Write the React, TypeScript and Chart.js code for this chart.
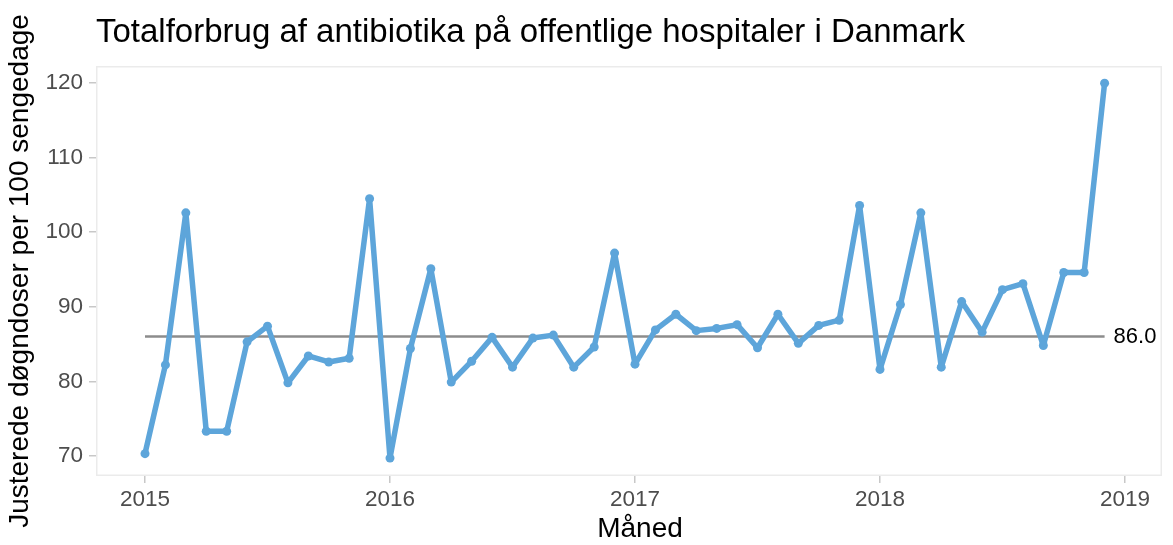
import { useEffect, useRef } from "react";
import { Chart, registerables } from "chart.js";

Chart.register(...registerables);

const months = [
  "2015-01", "2015-02", "2015-03", "2015-04", "2015-05", "2015-06",
  "2015-07", "2015-08", "2015-09", "2015-10", "2015-11", "2015-12",
  "2016-01", "2016-02", "2016-03", "2016-04", "2016-05", "2016-06",
  "2016-07", "2016-08", "2016-09", "2016-10", "2016-11", "2016-12",
  "2017-01", "2017-02", "2017-03", "2017-04", "2017-05", "2017-06",
  "2017-07", "2017-08", "2017-09", "2017-10", "2017-11", "2017-12",
  "2018-01", "2018-02", "2018-03", "2018-04", "2018-05", "2018-06",
  "2018-07", "2018-08", "2018-09", "2018-10", "2018-11", "2018-12",
];

const values = [
  70.3, 82.2, 102.6, 73.3, 73.3, 85.3, 87.4, 79.8, 83.4, 82.6, 83.1, 104.5,
  69.7, 84.4, 95.1, 79.9, 82.7, 85.9, 81.9, 85.8, 86.2, 81.9, 84.6, 97.2,
  82.3, 86.9, 89.0, 86.8, 87.1, 87.6, 84.5, 89.0, 85.1, 87.5, 88.2, 103.6,
  81.6, 90.3, 102.6, 81.9, 90.7, 86.6, 92.3, 93.1, 84.8, 94.6, 94.6, 120.0,
];

const yearTicks = [2015, 2016, 2017, 2018, 2019];
const yTicks = [70, 80, 90, 100, 110, 120];
const medianValue = 86.0;
const medianLabel = "86.0";

const titleText = "Totalforbrug af antibiotika på offentlige hospitaler i Danmark";
const xTitle = "Måned";
const yTitle = "Justerede døgndoser per 100 sengedage";

const FONT = "'Liberation Sans', Arial, Helvetica, sans-serif";

function monthToX(m: string): number {
  const [y, mo] = m.split("-").map(Number);
  return y + (mo - 1) / 12;
}

export default function App() {
  const ref = useRef<HTMLCanvasElement | null>(null);

  useEffect(() => {
    const canvas = ref.current;
    if (!canvas) return;

    const points = months.map((m, i) => ({ x: monthToX(m), y: values[i] }));
    const medianPoints = [
      { x: monthToX(months[0]), y: medianValue },
      { x: monthToX(months[months.length - 1]), y: medianValue },
    ];

    const panelPlugin = {
      id: "panelBorder",
      beforeDatasetsDraw(chart: any) {
        const { ctx, chartArea } = chart;
        ctx.save();
        ctx.strokeStyle = "#ebebeb";
        ctx.lineWidth = 1.5;
        ctx.strokeRect(
          chartArea.left + 0.75,
          chartArea.top + 0.75,
          chartArea.right - chartArea.left - 1.5,
          chartArea.bottom - chartArea.top - 1.5
        );
        ctx.restore();
      },
    };

    const textPlugin = {
      id: "extraText",
      afterDraw(chart: any) {
        const { ctx, scales, width, height } = chart;
        const x = scales.x.getPixelForValue(medianPoints[1].x) + 9;
        const y = scales.y.getPixelForValue(medianValue);
        ctx.save();
        ctx.fillStyle = "#000000";
        ctx.font = `22px ${FONT}`;
        ctx.textAlign = "left";
        ctx.textBaseline = "middle";
        ctx.fillText(medianLabel, x, y);
        // x-axis title, centred on the full figure width like the reference
        ctx.font = `28px ${FONT}`;
        ctx.textAlign = "center";
        ctx.textBaseline = "middle";
        ctx.fillText(xTitle, (width + 107) / 2, height - 16);
        ctx.restore();
      },
    };

    const chart = new Chart(canvas, {
      type: "line",
      data: {
        datasets: [
          {
            data: medianPoints,
            borderColor: "#8c8c8c",
            borderWidth: 2.5,
            pointRadius: 0,
            fill: false,
            order: 2,
          },
          {
            data: points,
            borderColor: "#5DA5DA",
            backgroundColor: "#5DA5DA",
            borderWidth: 5.5,
            borderJoinStyle: "round",
            borderCapStyle: "round",
            pointRadius: 4.5,
            pointBorderWidth: 0,
            pointBackgroundColor: "#5DA5DA",
            tension: 0,
            fill: false,
            order: 1,
          },
        ],
      },
      options: {
        responsive: false,
        animation: false,
        events: [],
        layout: { padding: { left: 0, right: 11, top: 0, bottom: 0 } },
        plugins: {
          legend: { display: false },
          tooltip: { enabled: false },
          title: {
            display: true,
            text: titleText,
            align: "start",
            fullSize: false,
            color: "#000000",
            font: { family: FONT, size: 33, weight: "normal" },
            padding: { top: 13, bottom: 13.4 },
          },
        },
        scales: {
          x: {
            type: "linear",
            min: 2014.8,
            max: 2019.151,
            afterBuildTicks(scale: any) {
              scale.ticks = yearTicks.map((v) => ({ value: v }));
            },
            afterFit(scale: any) {
              scale.height = 69;
            },
            ticks: {
              color: "#4d4d4d",
              font: { family: FONT, size: 22.5 },
              padding: 3,
              maxRotation: 0,
              autoSkip: false,
              callback: (v: any) => String(v),
            },
            grid: {
              drawOnChartArea: false,
              drawTicks: true,
              tickLength: 7,
              color: "#c8c8c8",
              lineWidth: 1.5,
            },
            border: { display: false },
            title: { display: false },
          },
          y: {
            type: "linear",
            min: 67.3,
            max: 122.3,
            afterBuildTicks(scale: any) {
              scale.ticks = yTicks.map((v) => ({ value: v }));
            },
            afterFit(scale: any) {
              scale.width = 96;
            },
            ticks: {
              color: "#4d4d4d",
              font: { family: FONT, size: 22.5 },
              padding: 6,
              autoSkip: false,
              callback: (v: any) => String(v),
            },
            grid: {
              drawOnChartArea: false,
              drawTicks: true,
              tickLength: 7,
              color: "#c8c8c8",
              lineWidth: 1.5,
            },
            border: { display: false },
            title: {
              display: true,
              text: yTitle,
              color: "#000000",
              font: { family: FONT, size: 28 },
              padding: { top: 3, bottom: 0 },
            },
          },
        },
      },
      plugins: [panelPlugin, textPlugin],
    } as any);

    return () => {
      chart.destroy();
    };
  }, []);

  return (
    <div style={{ position: "fixed", left: 0, top: 0, width: 1173, height: 545, background: "#ffffff" }}>
      <canvas ref={ref} width={1173} height={545} style={{ display: "block", width: 1173, height: 545 }} />
    </div>
  );
}
